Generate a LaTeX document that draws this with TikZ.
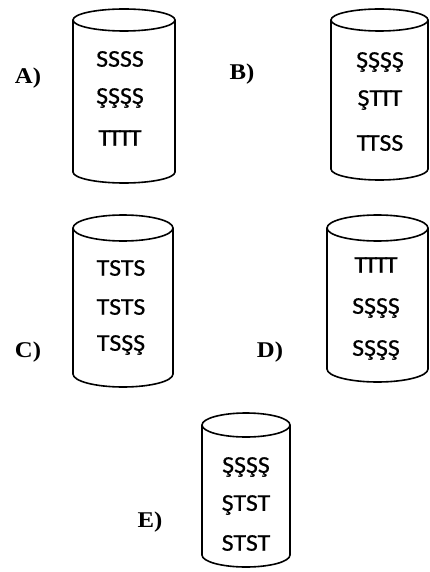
\documentclass[tikz,border=0pt]{standalone}
\usepackage{fontspec}
\setmainfont{Liberation Serif}
\newfontfamily\rowfont{Carlito}[FakeBold=0.6]
% slightly widened letters
\newcommand\widetag[1]{\scalebox{1.1}[1]{#1}}
\newcommand\widerow[1]{\scalebox{1.08}[1]{#1}}
% tight join between neighbouring T's so their bars meet
\newcommand\tj{\kern-2.2pt}
\tikzset{
  drumline/.style={line width=1.6pt},
  tag/.style={font=\bfseries\fontsize{22.5}{22.5}\selectfont, inner sep=0pt},
  row/.style={font=\rowfont\fontsize{24}{24}\selectfont, inner sep=0pt},
}
% \drum{left}{right}{top centre y}{half height of ellipse}{lowest y}
\newcommand\drum[5]{%
  \draw[drumline] ({(#1+#2)/2},#3) ellipse ({(#2-#1)/2} and #4);
  \draw[drumline] (#1,#3) -- (#1,#5-#4)
    arc[start angle=180, end angle=360, x radius={(#2-#1)/2}, y radius=-#4]
    -- (#2,#3);
}
\begin{document}
\begin{tikzpicture}[x=1pt,y=-1pt]
\useasboundingbox (0,0) rectangle (430,572);

% A
\drum{73}{175}{20}{11}{183}
\node[tag] (la) at (28,78) {\widetag{A)}};
\node[row] (a1) at (120,59) {\widerow{SSSS}};
\node[row] (a2) at (120,98) {\widerow{ŞŞŞŞ}};
\node[row] (a3) at (120,138) {\widerow{T\tj T\tj T\tj T}};

% B
\drum{331}{428}{20}{11}{180}
\node[tag] (lb) at (242,74) {\widetag{B)}};
\node[row] (b1) at (380,62) {\widerow{ŞŞŞŞ}};
\node[row] (b2) at (380,100) {\widerow{ŞT\tj T\tj T}};
\node[row] (b3) at (380,143) {\widerow{T\tj TSS}};

% C
\drum{73}{173}{228}{13}{387}
\node[tag] (lc) at (28,352) {\widetag{C)}};
\node[row] (c1) at (121,268) {\widerow{TSTS}};
\node[row] (c2) at (121,307) {\widerow{TSTS}};
\node[row] (c3) at (121,345) {\widerow{TSŞŞ}};

% D
\drum{327}{428}{228}{13}{382}
\node[tag] (ld) at (270,352) {\widetag{D)}};
\node[row] (d1) at (376,265) {\widerow{T\tj T\tj T\tj T}};
\node[row] (d2) at (376,308) {\widerow{SŞŞŞ}};
\node[row] (d3) at (376,350) {\widerow{SŞŞŞ}};

% E
\drum{202}{290}{425}{12}{567}
\node[tag] (le) at (150,522) {\widetag{E)}};
\node[row] (e1) at (246,467) {\widerow{ŞŞŞŞ}};
\node[row] (e2) at (246,505) {\widerow{ŞTST}};
\node[row] (e3) at (246,543) {\widerow{STST}};
\end{tikzpicture}
\end{document}
